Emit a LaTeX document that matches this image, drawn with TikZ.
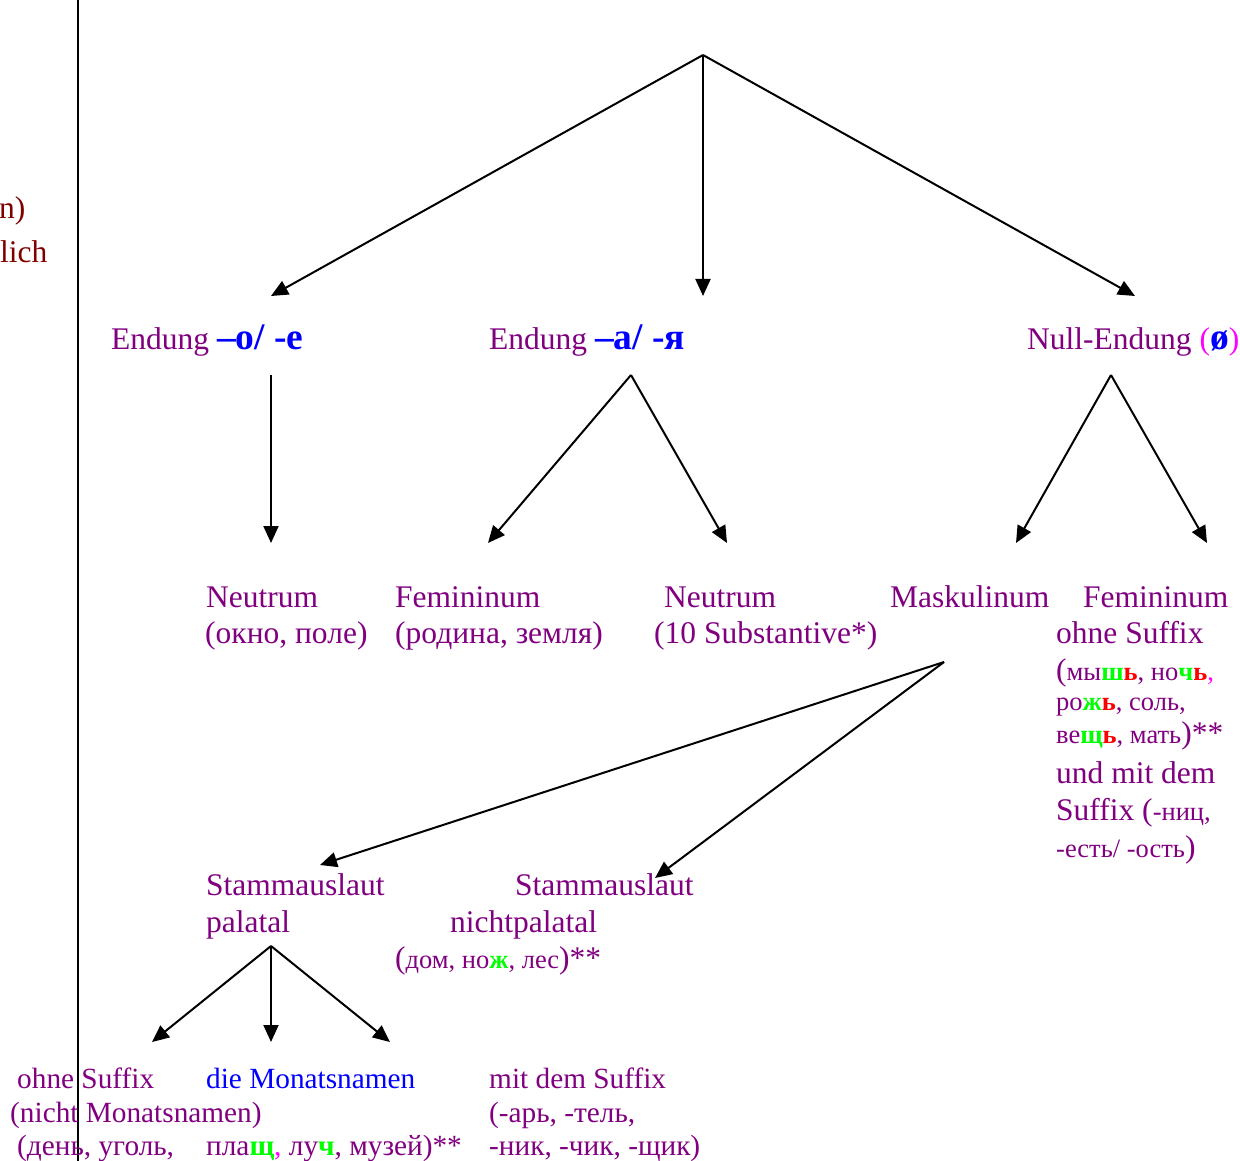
\documentclass[tikz,border=0pt]{standalone}
\usepackage{fontspec}
\setmainfont{Liberation Serif}
\usetikzlibrary{arrows.meta}
\definecolor{lila}{RGB}{128,0,128}
\definecolor{dred}{RGB}{128,0,0}
\definecolor{lgreen}{RGB}{0,255,0}
\definecolor{hred}{RGB}{255,0,0}
\definecolor{mag}{RGB}{255,0,255}
\definecolor{hblue}{RGB}{0,0,255}
\newcommand\sm[1]{{\fontsize{26.5}{30}\selectfont #1}}
\newcommand\gl[1]{\textcolor{lgreen}{\textbf{#1}}}
\newcommand\rl[1]{\textcolor{hred}{\textbf{#1}}}
\newcommand\bl[1]{\textcolor{hblue}{\textbf{#1}}}
\newcommand\bbl[1]{{\fontsize{37.5}{40}\selectfont\bl{#1}}}
\tikzset{
  txt/.style={anchor=base west,inner sep=0pt,text=lila,font=\fontsize{31.5}{36}\selectfont},
  txtb/.style={txt,font=\fontsize{29.3}{34}\selectfont},
  arr/.style={line width=2pt,-{Triangle[length=17pt,width=15pt]}}
}
\begin{document}
\begin{tikzpicture}[x=1pt,y=-1pt]
\useasboundingbox (0,0) rectangle (1240,1161);
\draw[line width=2pt] (78,0) -- (78,1161);
% left cut-off text
\node[txt,text=dred] (l1) at (-1,219) {n)};
\node[txt,text=dred] (l2) at (0,262) {lich};
% coordinates
\coordinate (top) at (703,55);
\coordinate (t1) at (271,296);
\coordinate (t2) at (703,296);
\coordinate (t3) at (1135,296);
\coordinate (a1) at (271,375);
\coordinate (a1e) at (271,543);
\coordinate (a2) at (631,375);
\coordinate (a2l) at (488,543);
\coordinate (a2r) at (727,543);
\coordinate (a3) at (1111,375);
\coordinate (a3l) at (1016,543);
\coordinate (a3r) at (1207,543);
\coordinate (m) at (944,662);
\coordinate (ml) at (320,865);
\coordinate (mr) at (655,878);
\coordinate (p) at (271,946);
\coordinate (p1) at (152,1042);
\coordinate (p2) at (271,1042);
\coordinate (p3) at (390,1042);
% row 1
\node[txt] (e1) at (111,349) {Endung \bbl{–o/ -e}};
\node[txt] (e2) at (489,349) {Endung \bbl{–а/ -я}};
\node[txt] (e3) at (1027,349) {Null-Endung \textcolor{mag}{(}\bbl{ø}\textcolor{mag}{)}};
% row 2
\node[txt] (n1a) at (206,607) {Neutrum};
\node[txt] (n1b) at (205,643) {(окно, поле)};
\node[txt] (f1a) at (395,607) {Femininum};
\node[txt] (f1b) at (395,643) {(родина, земля)};
\node[txt] (n2a) at (664,607) {Neutrum};
\node[txt] (n2b) at (654,643) {(10 Substantive*)};
\node[txt] (mk) at (890,607) {Maskulinum};
\node[txt] (f2a) at (1083,607) {Femininum};
\node[txt] (f2b) at (1056,643) {ohne Suffix};
\node[txt] (f2c) at (1056,680) {(\sm{мы\gl{ш}\rl{ь}, но\gl{ч}\rl{ь}\textcolor{mag}{,}}};
\node[txt] (f2d) at (1056,710) {\sm{ро\gl{ж}\rl{ь}, соль,}};
\node[txt] (f2e) at (1056,743) {\sm{ве\gl{щ}\rl{ь}, мать})**};
\node[txt] (f2f) at (1056,783) {und mit dem};
\node[txt] (f2g) at (1056,820) {Suffix (\sm{-ниц,}};
\node[txt] (f2h) at (1056,857) {\sm{-есть/ -ость})};
% row 3
\node[txt] (s1a) at (206,895) {Stammauslaut};
\node[txt] (s1b) at (206,932) {palatal};
\node[txt] (s2a) at (515,895) {Stammauslaut};
\node[txt] (s2b) at (450,932) {nichtpalatal};
\node[txt] (s2c) at (395,968) {(\sm{дом, но\gl{ж}, лес})**};
% row 4
\node[txtb] (o1) at (17,1088) {ohne Suffix};
\node[txtb] (o2) at (10,1122) {(nicht Monatsnamen)};
\node[txtb] (o3) at (17,1155) {(день, уголь,};
\node[txtb,text=hblue] (d1) at (206,1088) {die Monatsnamen};
\node[txtb] (d2) at (206,1155) {пла\gl{щ}\textcolor{mag}{,} лу\gl{ч}, музей)**};
\node[txtb] (w1) at (489,1088) {mit dem Suffix};
\node[txtb] (w2) at (489,1122) {(-арь, -тель,};
\node[txtb] (w3) at (489,1155) {-ник, -чик, -щик)};
% arrows
\draw[arr] (top) -- (t1);
\draw[arr] (top) -- (t2);
\draw[arr] (top) -- (t3);
\draw[arr] (a1) -- (a1e);
\draw[arr] (a2) -- (a2l);
\draw[arr] (a2) -- (a2r);
\draw[arr] (a3) -- (a3l);
\draw[arr] (a3) -- (a3r);
\draw[arr] (m) -- (ml);
\draw[arr] (m) -- (mr);
\draw[arr] (p) -- (p1);
\draw[arr] (p) -- (p2);
\draw[arr] (p) -- (p3);
\end{tikzpicture}
\end{document}
